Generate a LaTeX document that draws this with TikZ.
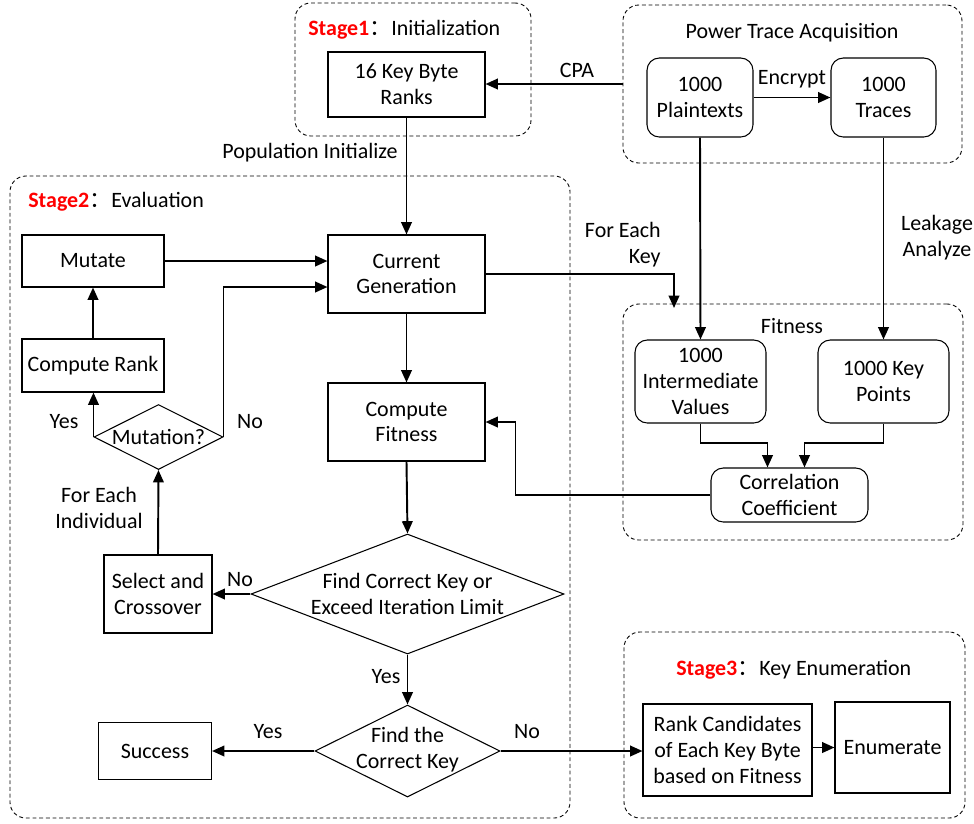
\documentclass[tikz,border=0pt]{standalone}
\usepackage{fontspec}
\setmainfont{Carlito}
\newfontfamily\cjkfont{Noto Sans CJK SC}
\usetikzlibrary{arrows.meta,shapes.geometric,calc}
\definecolor{stagered}{RGB}{255,0,0}
\newcommand{\stagetitle}[2]{\textcolor{stagered}{\textbf{#1}}{\cjkfont ：}#2}
\begin{document}
\begin{tikzpicture}[x=0.02cm,y=-0.02cm,
  font=\fontsize{12.5}{14.7}\selectfont,
  sz/.style 2 args={minimum width=#1*0.02cm, minimum height=#2*0.02cm},
  box/.style={draw, line width=0.6pt, inner sep=0pt, align=center},
  rbox/.style={box, rounded corners=7pt},
  dbox/.style={draw, line width=0.6pt, diamond, inner sep=0pt, aspect=1},
  cont/.style={draw, line width=0.5pt, dash pattern=on 2.2pt off 1.6pt, rounded corners=9pt, inner sep=0pt},
  arr/.style={line width=1.1pt, -{Triangle[length=7pt,width=6pt]}},
  lbl/.style={inner sep=0pt, align=center},
]
\useasboundingbox (0,0) rectangle (974,823);

% containers
\node[cont, sz={236}{133}] (s1) at (413,69.5) {};
\node[cont, sz={339}{158}] (ptbox) at (792.5,84) {};
\node[cont, sz={560}{642}] (s2) at (290,497) {};
\node[cont, sz={340}{236}] (fitbox) at (793,422) {};
\node[cont, sz={341}{186}] (s3) at (794.5,725) {};

% container titles
\node[lbl, anchor=west] (t1) at (308,30) {\stagetitle{Stage1}{Initialization}};
\node[lbl] (t2) at (792,33) {Power Trace Acquisition};
\node[lbl, anchor=west] (t3) at (28,202) {\stagetitle{Stage2}{Evaluation}};
\node[lbl] (t4) at (792,326) {Fitness};
\node[lbl, anchor=west] (t5) at (676,670) {\stagetitle{Stage3}{Key Enumeration}};

% nodes
\node[box, sz={157}{65}] (kbr) at (406.5,84.5) {16 Key Byte\\Ranks};
\node[rbox, sz={106}{79}] (pt) at (700,97.5) {1000\\Plaintexts};
\node[rbox, sz={105}{79}] (tr) at (883.5,97.5) {1000\\Traces};
\node[box, sz={142}{52}] (mut) at (93,261) {Mutate};
\node[box, sz={157}{78}] (cg) at (406.5,274) {Current\\Generation};
\node[box, sz={142}{53}] (cr) at (93,365.5) {Compute Rank};
\node[dbox, sz={129}{65}] (md) at (158.5,437) {};
\node[lbl] (mdt) at (158.5,437) {Mutation?};
\node[box, sz={157}{78}] (cf) at (406.5,422) {Compute\\Fitness};
\node[box, sz={108}{78}] (sc) at (158,594) {Select and\\Crossover};
\node[dbox, sz={313}{120}] (fd) at (407.5,594) {};
\node[lbl] (fdt) at (407.5,594) {Find Correct Key or\\Exceed Iteration Limit};
\node[dbox, sz={185}{92}] (fk) at (407.5,751) {};
\node[lbl] (fkt) at (407.5,750) {Find the\\Correct Key};
\node[box, sz={113}{57}] (su) at (155,751) {Success};
\node[rbox, sz={131}{83}] (iv) at (700.5,381.5) {1000\\Intermediate\\Values};
\node[rbox, sz={131}{83}] (kp) at (883.5,381.5) {1000 Key\\Points};
\node[rbox, sz={157}{54}] (cc) at (789.5,495) {Correlation\\Coefficient};
\node[box, sz={169}{92}] (rc) at (727.5,750) {Rank Candidates\\of Each Key Byte\\based on Fitness};
\node[box, sz={115}{91}] (en) at (892.5,747.5) {Enumerate};

\coordinate (fe) at (674,308);

% connectors
\draw[arr] (ptbox.west) -- (ptbox.west -| kbr.east);
\draw[arr] (pt.east) -- (tr.west);
\draw[arr] (kbr.south) -- (cg.north);
\draw[arr] (mut.east) -- (mut.east -| cg.west);
\draw[arr] (md.east) |- ($(cg.west)+(0,13)$);
\draw[arr] (cr.north) -- (mut.south);
\draw[arr] (md.west) -- (md.west |- cr.south);
\draw[arr] (sc.north) -- (md.south);
\draw[arr] (cg.south) -- (cf.north);
\draw[arr] (cf.south) -- (fd.north);
\draw[arr] (fd.west) -- (fd.west -| sc.east);
\draw[arr] (fd.south) -- (fk.north);
\draw[arr] (fk.west) -- (fk.west -| su.east);
\draw[arr] (fk.east) -- (fk.east -| rc.west);
\draw[arr] (rc.east |- en.west) -- (en.west);
\draw[arr] (pt.south) -- (iv.north);
\draw[arr] (tr.south) -- (kp.north);
\draw[arr] (cg.east) -| (fe);
\draw[arr] (iv.south) -- ++(0,19.5) -| ($(cc.north)+(-22,0)$);
\draw[arr] (kp.south) -- ++(0,19.5) -| ($(cc.north)+(15,0)$);
\draw[arr] (cc.west) -- ++(-195,0) |- (cf.east);

% connector labels
\node[lbl] (lcpa) at (577,70) {CPA};
\node[lbl] (lenc) at (792,79) {Encrypt};
\node[lbl] (lpop) at (310,153) {Population Initialize};
\node[lbl, align=right, anchor=east] (lfek) at (661,245) {For Each\\Key};
\node[lbl] (lleak) at (937,238) {Leakage\\Analyze};
\node[lbl] (lyes1) at (64,422) {Yes};
\node[lbl] (lno1) at (250,422) {No};
\node[lbl] (lfei) at (99,508) {For Each\\Individual};
\node[lbl] (lno2) at (240,580) {No};
\node[lbl] (lyes2) at (386,677) {Yes};
\node[lbl] (lyes3) at (268,732) {Yes};
\node[lbl] (lno3) at (527,732) {No};
\end{tikzpicture}
\end{document}
